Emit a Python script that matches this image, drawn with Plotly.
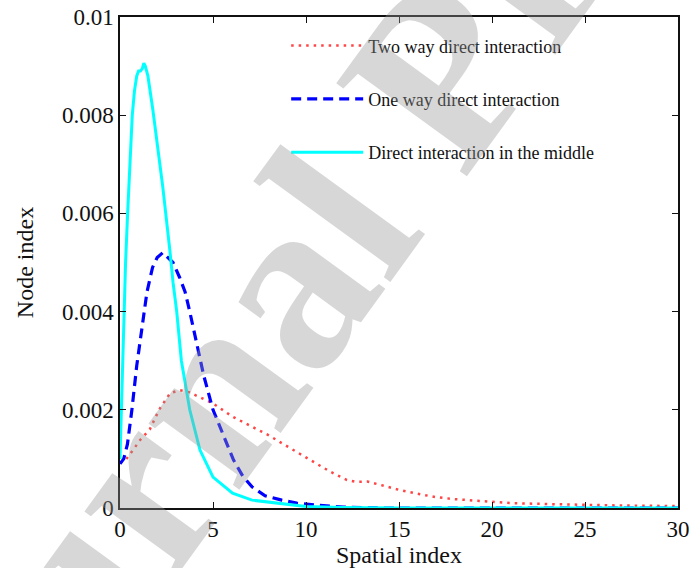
import plotly.graph_objects as go

# ---- data ----
two_way_x = [0, 0.3, 0.7, 1.07, 1.6, 2.1, 2.7, 3.2, 3.7, 4.3, 5.0, 6.05, 7.1, 8.0, 8.7, 9.6,
             10.5, 11.3, 12.2, 12.7, 13.3, 13.9, 15.0, 16.0, 17.0, 18.0, 19.5, 21, 23, 25, 27, 30]
two_way_y = [0.00092, 0.00098, 0.00118, 0.00138, 0.0016, 0.0020, 0.00234, 0.0024, 0.00236,
             0.00226, 0.00213, 0.00186, 0.00165, 0.00148, 0.00132, 0.00112, 0.00092, 0.00074,
             0.00057, 0.00053, 0.00054, 0.00048, 0.00037, 0.00029, 0.00022, 0.00018, 0.00014,
             0.0001, 0.00008, 0.00006, 0.00005, 0.00004]

one_way_x = [0, 0.2, 0.4, 0.64, 0.9, 1.2, 1.45, 1.75, 2.0, 2.3, 2.6, 2.85, 3.2, 3.5, 3.75, 4.1,
             4.5, 5.0, 5.5, 6.1, 6.6, 7.1, 7.8, 8.7, 9.5, 10.5, 12, 14, 20, 30]
one_way_y = [0.0009, 0.0010, 0.0013, 0.0020, 0.0029, 0.0037, 0.0044, 0.0049, 0.0051, 0.0052,
             0.0051, 0.0050, 0.0047, 0.0044, 0.0040, 0.0034, 0.0027, 0.0020, 0.00155, 0.00098,
             0.00065, 0.00043, 0.00025, 0.00016, 0.0001, 0.00006, 0.00002, 0.0, 0.0, 0.0]

middle_x = [0, 0.1, 0.21, 0.3, 0.41, 0.53, 0.66, 0.78, 0.9, 1.0, 1.1, 1.2, 1.28, 1.36, 1.5,
            1.77, 2.0, 2.3, 2.68, 2.85, 3.05, 3.3, 3.75, 4.3, 5.0, 6.05, 7.1, 8.7, 10, 12, 15,
            20, 25, 30]
middle_y = [0.0010, 0.0025, 0.0040, 0.0050, 0.0060, 0.0071, 0.0080, 0.0085, 0.0088, 0.0089,
            0.0089, 0.00895, 0.00906, 0.0090, 0.0088, 0.0081, 0.0074, 0.00654, 0.00525, 0.0046,
            0.0040, 0.0030, 0.0020, 0.00118, 0.00063, 0.0003, 0.00016, 0.00008, 0.00003,
            0.00001, 0.0, 0.0, 0.0, 0.0]

names = ["Two way direct interaction", "One way direct interaction",
         "Direct interaction in the middle"]

x_ticks = [0, 5, 10, 15, 20, 25, 30]
y_ticks = [0, 0.002, 0.004, 0.006, 0.008, 0.01]
y_tick_text = ["0", "0.002", "0.004", "0.006", "0.008", "0.01"]

FONT = "Liberation Serif, Times New Roman, serif"

fig = go.Figure()
fig.add_trace(go.Scatter(x=two_way_x, y=two_way_y, mode="lines", name=names[0],
                         legendgroup="a",
                         line=dict(color="#ff4545", width=2.5, dash="2.5px,5px")))
fig.add_trace(go.Scatter(x=one_way_x, y=one_way_y, mode="lines", name=names[1],
                         legendgroup="b",
                         line=dict(color="#0000ff", width=3.2, dash="10px,6px")))
fig.add_trace(go.Scatter(x=middle_x, y=middle_y, mode="lines", name=names[2],
                         legendgroup="c",
                         line=dict(color="#00ffff", width=3)))

axis_common = dict(showline=True, linecolor="#111", linewidth=1.5, mirror="ticks",
                   ticks="inside", ticklen=6, tickcolor="#111", tickwidth=1.2,
                   showgrid=False, zeroline=False, automargin=False,
                   tickfont=dict(family=FONT, size=23, color="#111"))

fig.update_xaxes(range=[0, 30], tickvals=x_ticks,
                 title=dict(text="Spatial index", font=dict(family=FONT, size=24, color="#111"),
                            standoff=2),
                 **axis_common)
fig.update_yaxes(range=[0, 0.01], tickvals=y_ticks, ticktext=y_tick_text,
                 title=dict(text="Node index", font=dict(family=FONT, size=24, color="#111"),
                            standoff=22),
                 **axis_common)

fig.update_layout(
    width=691, height=568,
    margin=dict(l=120, r=13, t=17, b=60),
    paper_bgcolor="white", plot_bgcolor="white",
    font=dict(family=FONT, color="#111"),
    legend=dict(x=0.2978, y=0.979, xanchor="left", yanchor="top",
                bgcolor="rgba(0,0,0,0)", borderwidth=0,
                font=dict(family=FONT, size=18, color="#111"),
                tracegroupgap=27, itemwidth=72),
    showlegend=True,
)

# watermark
fig.add_annotation(text="<b>Journal Pre-proof</b>", xref="paper", yref="paper",
                   x=0.568, y=0.876, xanchor="center", yanchor="middle",
                   showarrow=False, textangle=-54,
                   font=dict(family=FONT, size=245, color="rgba(150,150,150,0.38)"))

fig.write_html("out.html")
